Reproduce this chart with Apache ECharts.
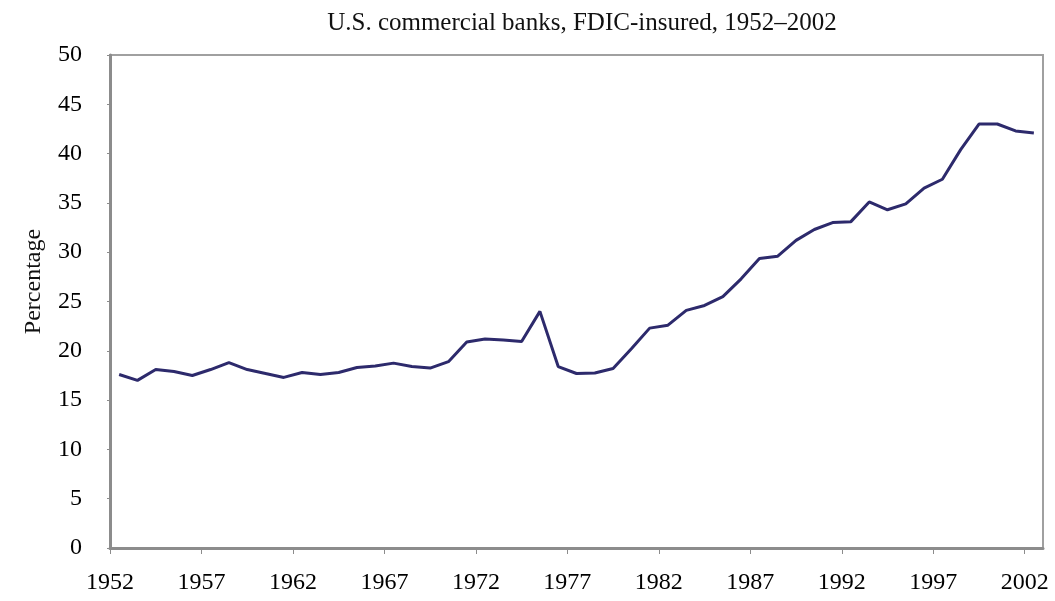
<!DOCTYPE html>
<html>
<head>
<meta charset="utf-8">
<script src="https://cdn.jsdelivr.net/npm/echarts@6/dist/echarts.min.js"></script>
<style>
  html, body { margin: 0; padding: 0; background: #fff; }
  #chart { width: 1055px; height: 601px; }
</style>
</head>
<body>
<div id="chart"></div>
<script>
// share (%) by year
const years = [
  1952, 1953, 1954, 1955, 1956, 1957, 1958, 1959, 1960, 1961,
  1962, 1963, 1964, 1965, 1966, 1967, 1968, 1969, 1970, 1971,
  1972, 1973, 1974, 1975, 1976, 1977, 1978, 1979, 1980, 1981,
  1982, 1983, 1984, 1985, 1986, 1987, 1988, 1989, 1990, 1991,
  1992, 1993, 1994, 1995, 1996, 1997, 1998, 1999, 2000, 2001, 2002
];
const percentage = [
  17.6, 17.0, 18.1, 17.9, 17.5, 18.1, 18.8, 18.1, 17.7, 17.3,
  17.8, 17.6, 17.8, 18.3, 18.45, 18.75, 18.4, 18.25, 18.9, 20.9,
  21.2, 21.1, 20.95, 24.0, 18.4, 17.7, 17.75, 18.2, 20.2, 22.3,
  22.6, 24.1, 24.6, 25.5, 27.3, 29.35, 29.6, 31.2, 32.3, 33.0,
  33.1, 35.1, 34.3, 34.9, 36.5, 37.4, 40.4, 43.0, 43.0, 42.3, 42.1
];
const yTicks = [0, 5, 10, 15, 20, 25, 30, 35, 40, 45, 50];

const serif = '"Liberation Serif", "DejaVu Serif", serif';

const chart = echarts.init(document.getElementById('chart'));
chart.setOption({
  animation: false,
  title: {
    text: 'U.S. commercial banks, FDIC-insured, 1952\u20132002',
    left: 577,
    top: 6,
    textAlign: 'center',
    textStyle: { fontFamily: serif, fontSize: 25, fontWeight: 'normal', color: '#111' }
  },
  grid: {
    left: 110, right: 12, top: 55, bottom: 53,
    show: true, borderColor: '#a0a0a0', borderWidth: 2, backgroundColor: '#fff'
  },
  xAxis: {
    type: 'value',
    min: years[0],
    max: years[years.length - 1] + 1,
    interval: 5,
    splitLine: { show: false },
    axisLine: { show: true, lineStyle: { color: '#8c8c8c', width: 3 } },
    axisTick: { show: true, length: 6, lineStyle: { color: '#8c8c8c', width: 1 } },
    axisLabel: {
      showMaxLabel: false,
      margin: 23,
      fontFamily: serif, fontSize: 24, color: '#000',
      formatter: (v) => String(v)
    }
  },
  yAxis: {
    type: 'value',
    min: yTicks[0],
    max: yTicks[yTicks.length - 1],
    interval: 5,
    name: 'Percentage',
    nameLocation: 'middle',
    nameGap: 64,
    nameTextStyle: { fontFamily: serif, fontSize: 24, color: '#111', padding: [0, 0, 0, 40] },
    splitLine: { show: false },
    axisLine: { show: true, lineStyle: { color: '#8c8c8c', width: 3 } },
    axisTick: { show: true, length: 3, lineStyle: { color: '#8c8c8c', width: 1 } },
    axisLabel: { margin: 28, fontFamily: serif, fontSize: 24, color: '#000' }
  },
  series: [{
    type: 'line',
    // values are plotted at mid-year
    data: years.map((y, i) => [y + 0.5, percentage[i]]),
    symbol: 'none',
    lineStyle: { color: '#2d2a6c', width: 3 }
  }]
});
</script>
</body>
</html>
